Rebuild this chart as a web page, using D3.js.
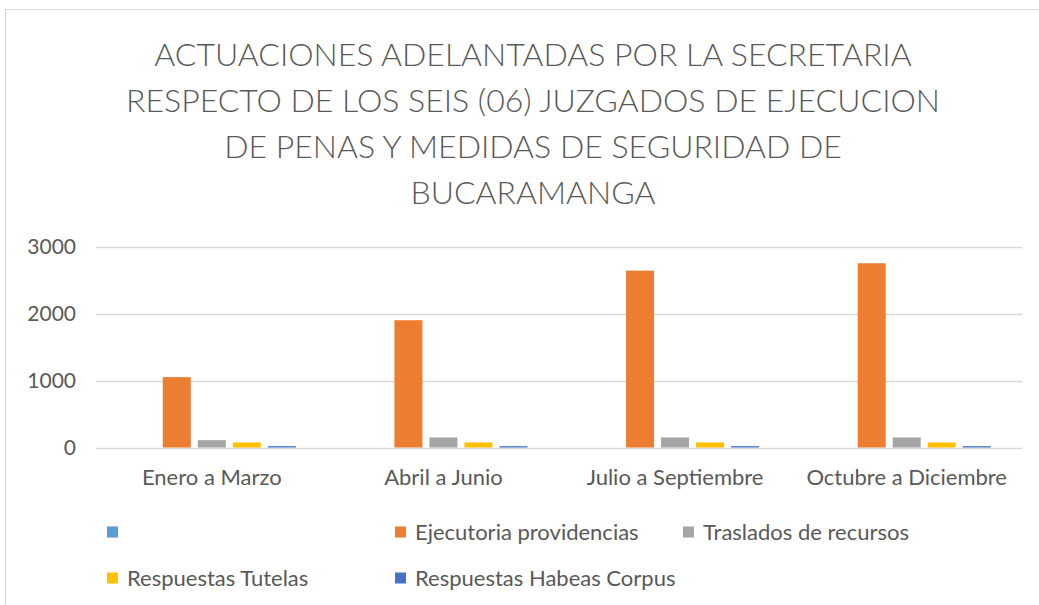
<!DOCTYPE html>
<html>
<head>
<meta charset="utf-8">
<script src="https://cdn.jsdelivr.net/npm/d3@7"></script>
<style>
  body { margin: 0; background: #fff; }
  text { font-family: Lato, "Open Sans", sans-serif; fill: #595959; }
</style>
</head>
<body>
<div id="canvas"></div>
<script>
"use strict"

let drawingWidth = 1039;
let drawingHeight = 605;

// data
let categories = ["Enero a Marzo", "Abril a Junio", "Julio a Septiembre", "Octubre a Diciembre"];
let seriesNames = ["", "Ejecutoria providencias", "Traslados de recursos", "Respuestas Tutelas", "Respuestas Habeas Corpus"];
let seriesColors = ["#5B9BD5", "#ED7D31", "#A5A5A5", "#FFC000", "#4472C4"];
let blankValues = [0, 0, 0, 0];
let ejecutoriaValues = [1050, 1900, 2640, 2750];
let trasladosValues = [110, 150, 150, 150];
let tutelasValues = [75, 75, 75, 75];
let habeasValues = [20, 20, 20, 20];
let yTicks = [0, 1000, 2000, 3000];
let titleLines = [
    "ACTUACIONES ADELANTADAS POR LA SECRETARIA",
    "RESPECTO DE LOS SEIS (06) JUZGADOS DE EJECUCION",
    "DE PENAS Y MEDIDAS DE SEGURIDAD DE",
    "BUCARAMANGA"
];

let seriesValues = [blankValues, ejecutoriaValues, trasladosValues, tutelasValues, habeasValues];

let drawing = d3.select("#canvas")
    .append("svg")
    .attr("width", drawingWidth)
    .attr("height", drawingHeight);

/* chart area border, runs off the right and bottom of the picture */
drawing.append("rect")
    .attr("x", 5.5)
    .attr("y", 9.5)
    .attr("width", 1100)
    .attr("height", 700)
    .attr("fill", "white")
    .attr("stroke", "#d9d9d9");

/* title */
drawing.append("g")
    .selectAll("text")
    .data(titleLines)
    .join("text")
    .attr("x", 533)
    .attr("y", (d, i) => 66 + i * 46)
    .attr("text-anchor", "middle")
    .attr("font-size", 32)
    .attr("font-weight", 300)
    .text(d => d);

let plotLeft = 96, plotRight = 1022.5, plotTop = 246.5, plotBottom = 447.5;

let x0 = d3.scaleBand()
    .domain(categories)
    .range([plotLeft, plotRight]);

let x1 = d3.scaleBand()
    .domain(d3.range(seriesNames.length))
    .range([0, x0.bandwidth()])
    .paddingInner(0.2)
    .paddingOuter(0.907);

let y = d3.scaleLinear()
    .domain([0, 3000])
    .range([plotBottom, plotTop]);

/* gridlines */
drawing.append("g")
    .selectAll("line")
    .data(yTicks)
    .join("line")
    .attr("x1", plotLeft)
    .attr("x2", plotRight)
    .attr("y1", d => Math.round(y(d)) + 0.5)
    .attr("y2", d => Math.round(y(d)) + 0.5)
    .attr("stroke", "#d9d9d9")
    .attr("stroke-width", 1.3);

/* y axis labels */
let yAxis = drawing.append("g")
    .attr("transform", `translate(${plotLeft - 20},0)`)
    .call(d3.axisLeft(y).tickValues(yTicks).tickFormat(d3.format("d")).tickSize(0).tickPadding(0));
yAxis.select(".domain").remove();
yAxis.selectAll("text")
    .attr("font-size", 21)
    .attr("font-family", null)
    .attr("fill", null);

/* bars */
let groups = drawing.append("g")
    .selectAll("g")
    .data(categories)
    .join("g")
    .attr("transform", d => `translate(${x0(d)},0)`);

groups.selectAll("rect")
    .data((c, ci) => seriesValues.map((vals, si) => ({ si: si, v: vals[ci] })))
    .join("rect")
    .attr("x", d => x1(d.si))
    .attr("width", x1.bandwidth())
    .attr("y", d => y(d.v))
    .attr("height", d => y(0) - y(d.v))
    .attr("fill", d => seriesColors[d.si]);

/* x axis labels */
let xAxis = drawing.append("g")
    .attr("transform", `translate(0,${plotBottom + 22})`)
    .call(d3.axisBottom(x0).tickSize(0).tickPadding(0));
xAxis.select(".domain").remove();
xAxis.selectAll("text")
    .attr("dy", "0.71em")
    .attr("font-size", 22)
    .attr("font-family", null)
    .attr("fill", null);

/* legend */
let legendPos = [
    [107, 532], [395, 532], [683, 532],
    [107, 578], [395, 578]
];

let legend = drawing.append("g")
    .selectAll("g")
    .data(seriesNames)
    .join("g")
    .attr("transform", (d, i) => `translate(${legendPos[i][0]},${legendPos[i][1]})`);

legend.append("rect")
    .attr("x", 0)
    .attr("y", -5.5)
    .attr("width", 11)
    .attr("height", 11)
    .attr("fill", (d, i) => seriesColors[i]);

legend.append("text")
    .attr("x", 20)
    .attr("y", 0)
    .attr("dy", "0.35em")
    .attr("font-size", 22)
    .text(d => d);
</script>
</body>
</html>
